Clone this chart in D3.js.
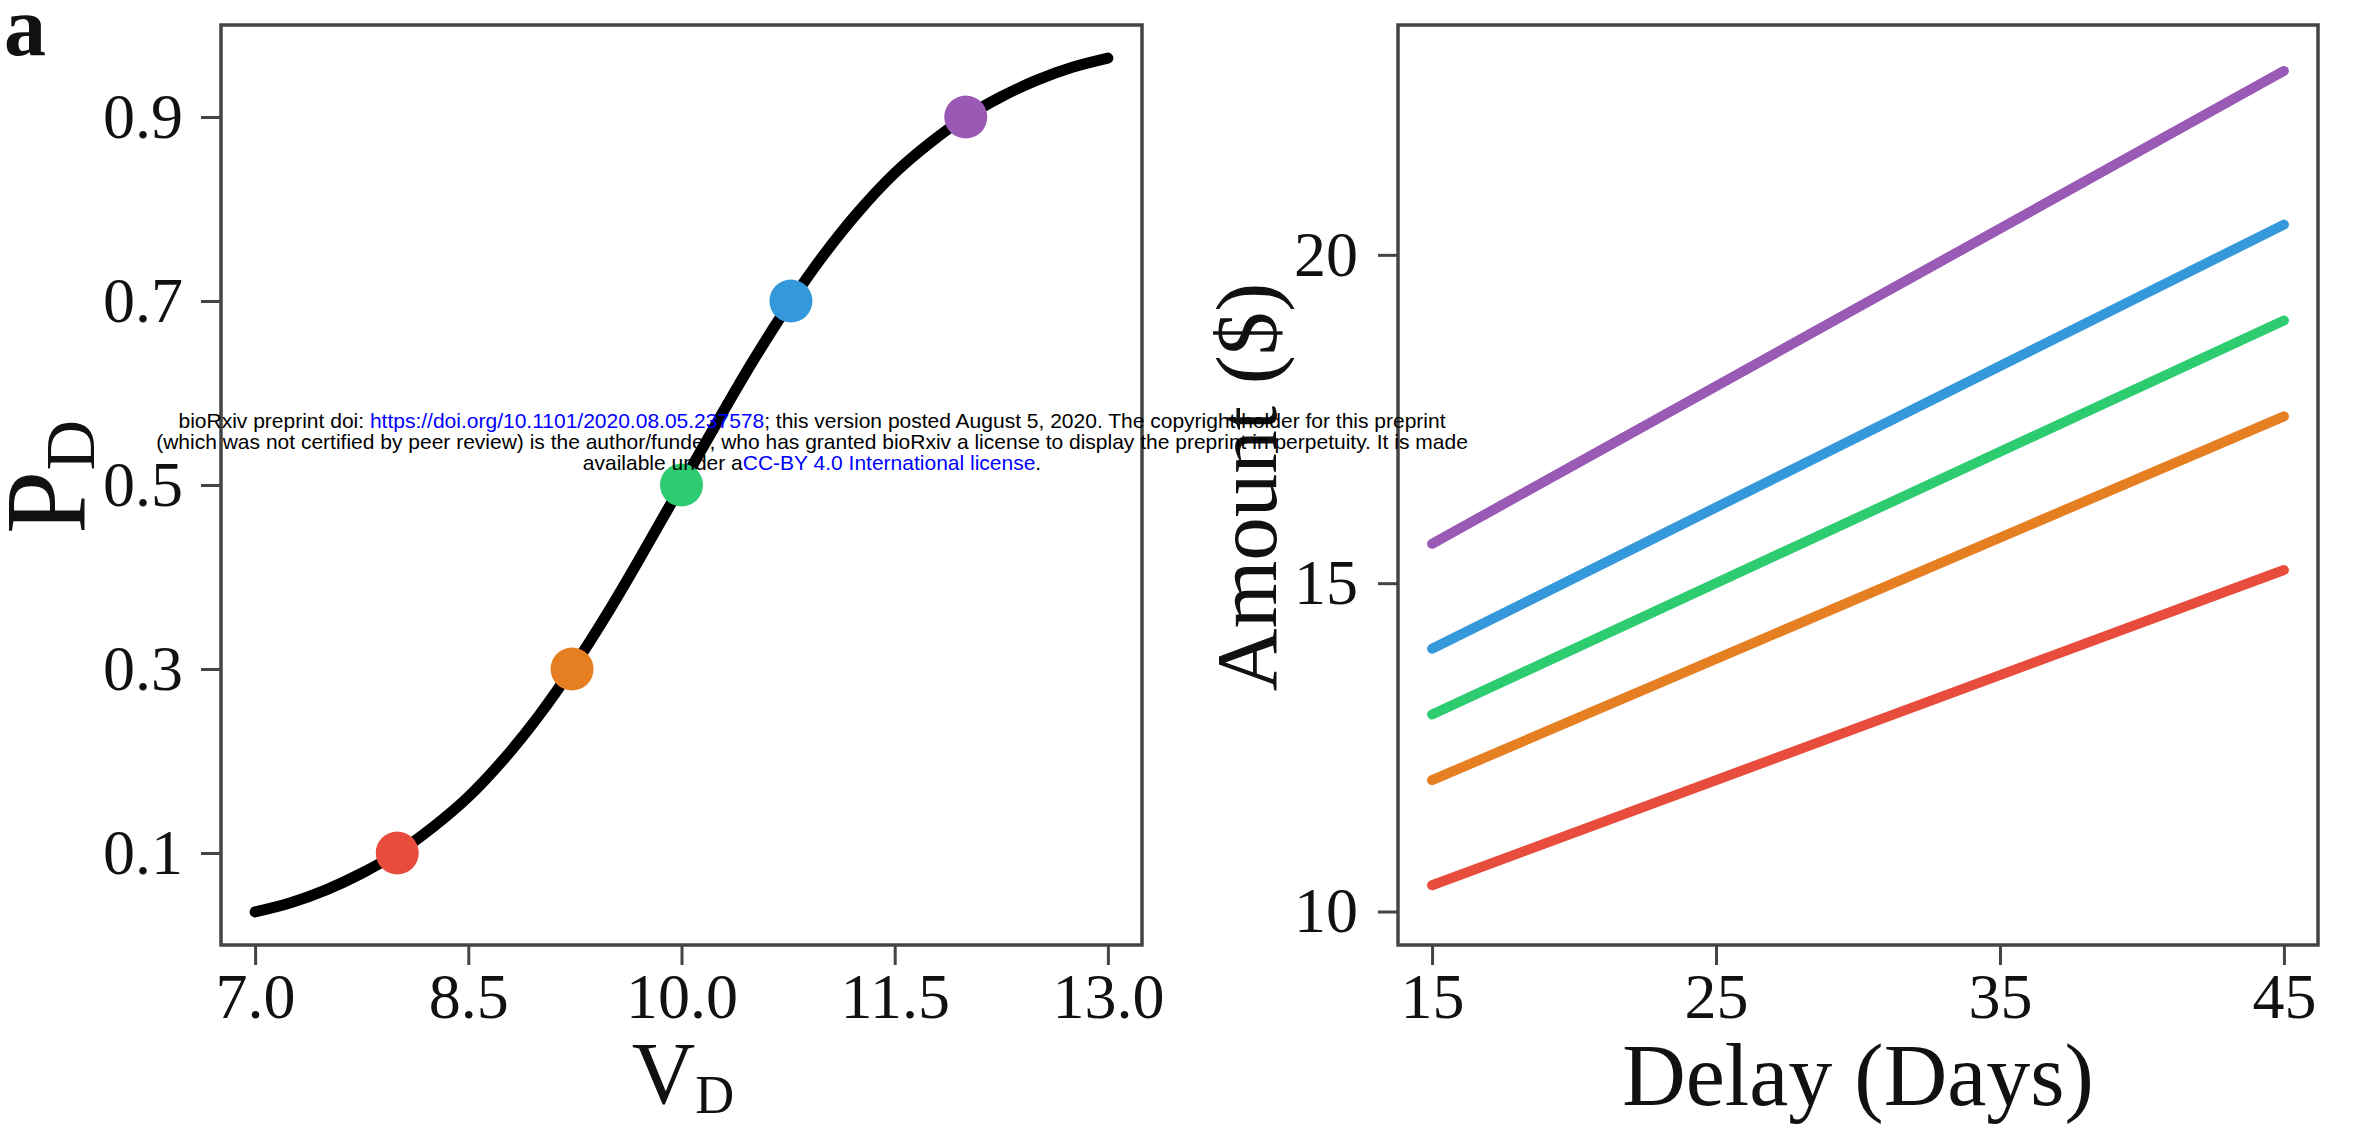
<!DOCTYPE html>
<html>
<head>
<meta charset="utf-8">
<script src="https://cdn.jsdelivr.net/npm/d3@7"></script>
<style>
  html, body { margin: 0; padding: 0; background: #fff; }
  svg { display: block; }
  .tick text { font-family: "Liberation Serif", "Times New Roman", serif; fill: #111; }
  .tick line { stroke: #444; stroke-width: 3; }
</style>
</head>
<body>
<svg id="chart" width="2360" height="1125"></svg>
<script>
// Psychometric curve: probability of choosing the delayed option vs. its value
const curveV = [7.0, 7.25, 7.5, 7.75, 8.0, 8.25, 8.5, 8.75, 9.0, 9.25, 9.5, 9.75, 10.0,
                10.25, 10.5, 10.75, 11.0, 11.25, 11.5, 11.75, 12.0, 12.25, 12.5, 12.75, 13.0];
const curveP = [0.036, 0.046, 0.060, 0.078, 0.100, 0.128, 0.161, 0.202, 0.250, 0.305, 0.366, 0.432, 0.500,
                0.568, 0.634, 0.695, 0.750, 0.798, 0.839, 0.872, 0.900, 0.922, 0.940, 0.954, 0.964];

// Highlighted indifference points on the curve
const pointV = [8.0, 9.23, 10.0, 10.77, 12.0];
const pointP = [0.1, 0.3, 0.5, 0.7, 0.9];
const pointColors = ["#e74c3c", "#e67e22", "#2ecc71", "#3498db", "#9b59b6"];

// Delayed amounts required at each delay, one line per point above
const delays = [15, 45];
const amountRed    = [10.4, 15.2];
const amountOrange = [12.0, 17.54];
const amountGreen  = [13.0, 19.0];
const amountBlue   = [14.0, 20.46];
const amountPurple = [15.6, 22.8];

// Tick values
const leftXTicks = [7.0, 8.5, 10.0, 11.5, 13.0];
const leftYTicks = [0.1, 0.3, 0.5, 0.7, 0.9];
const rightXTicks = [15, 25, 35, 45];
const rightYTicks = [10, 15, 20];

const svg = d3.select("#chart");
const serif = '"Liberation Serif", "Times New Roman", serif';
const sans = '"Liberation Sans", Arial, Helvetica, sans-serif';

// ---------- left panel ----------
const xL = d3.scaleLinear().domain([6.76, 13.24]).range([221, 1142]);
const yL = d3.scaleLinear().domain([0, 1]).range([945, 25]);

svg.append("g")
  .attr("transform", "translate(0,945)")
  .call(d3.axisBottom(xL).tickValues(leftXTicks).tickFormat(d3.format(".1f")).tickSize(20).tickPadding(8))
  .call(g => g.select(".domain").remove())
  .selectAll("text").style("font-size", "64px");

svg.append("g")
  .attr("transform", "translate(221,0)")
  .call(d3.axisLeft(yL).tickValues(leftYTicks).tickFormat(d3.format(".1f")).tickSize(20).tickPadding(18))
  .call(g => g.select(".domain").remove())
  .selectAll("text").style("font-size", "64px");

svg.append("rect")
  .attr("x", xL.range()[0]).attr("y", yL.range()[1])
  .attr("width", xL.range()[1] - xL.range()[0])
  .attr("height", yL.range()[0] - yL.range()[1])
  .attr("fill", "none").attr("stroke", "#444").attr("stroke-width", 3.5);

const curveData = curveV.map((v, i) => [v, curveP[i]]);
svg.append("path")
  .datum(curveData)
  .attr("fill", "none")
  .attr("stroke", "#000")
  .attr("stroke-width", 11)
  .attr("stroke-linecap", "round")
  .attr("d", d3.line().x(d => xL(d[0])).y(d => yL(d[1])).curve(d3.curveCatmullRom));

svg.append("g").selectAll("circle")
  .data(pointV.map((v, i) => ({ v, p: pointP[i], c: pointColors[i] })))
  .join("circle")
  .attr("cx", d => xL(d.v))
  .attr("cy", d => yL(d.p))
  .attr("r", 21.5)
  .attr("fill", d => d.c);

// axis titles, left panel
const vLabel = svg.append("text")
  .attr("x", 683).attr("y", 1103)
  .attr("text-anchor", "middle")
  .attr("font-family", serif).attr("font-size", 88).attr("fill", "#111");
vLabel.append("tspan").text("V");
vLabel.append("tspan").attr("font-size", 54).attr("dy", 10).text("D");

const pLabel = svg.append("text")
  .attr("transform", "translate(84,477) rotate(-90)")
  .attr("text-anchor", "middle")
  .attr("font-family", serif).attr("font-size", 114).attr("fill", "#111");
pLabel.append("tspan").text("P");
pLabel.append("tspan").attr("font-size", 70).attr("dy", 10).text("D");

// panel tag
svg.append("text")
  .attr("x", 4).attr("y", 55)
  .attr("font-family", serif).attr("font-weight", "bold")
  .attr("font-size", 84).attr("fill", "#111")
  .text("a");

// ---------- right panel ----------
const xR = d3.scaleLinear().domain([13.8, 46.2]).range([1398, 2318]);
const yR = d3.scaleLinear().domain([9.49, 23.5]).range([945, 25]);

svg.append("g")
  .attr("transform", "translate(0,945)")
  .call(d3.axisBottom(xR).tickValues(rightXTicks).tickFormat(d3.format("d")).tickSize(20).tickPadding(8))
  .call(g => g.select(".domain").remove())
  .selectAll("text").style("font-size", "64px");

svg.append("g")
  .attr("transform", "translate(1398,0)")
  .call(d3.axisLeft(yR).tickValues(rightYTicks).tickFormat(d3.format("d")).tickSize(20).tickPadding(20))
  .call(g => g.select(".domain").remove())
  .selectAll("text").style("font-size", "64px");

svg.append("rect")
  .attr("x", xR.range()[0]).attr("y", yR.range()[1])
  .attr("width", xR.range()[1] - xR.range()[0])
  .attr("height", yR.range()[0] - yR.range()[1])
  .attr("fill", "none").attr("stroke", "#444").attr("stroke-width", 3.5);

const amountSeries = [amountRed, amountOrange, amountGreen, amountBlue, amountPurple];
const lineR = d3.line().x(d => xR(d[0])).y(d => yR(d[1]));
svg.append("g").selectAll("path")
  .data(amountSeries.map((vals, i) => ({ pts: delays.map((d, j) => [d, vals[j]]), c: pointColors[i] })))
  .join("path")
  .attr("fill", "none")
  .attr("stroke", d => d.c)
  .attr("stroke-width", 10)
  .attr("stroke-linecap", "round")
  .attr("d", d => lineR(d.pts));

svg.append("text")
  .attr("x", 1858).attr("y", 1105)
  .attr("text-anchor", "middle")
  .attr("font-family", serif).attr("font-size", 88).attr("fill", "#111")
  .text("Delay (Days)");

svg.append("text")
  .attr("transform", "translate(1276,487) rotate(-90)")
  .attr("text-anchor", "middle")
  .attr("font-family", serif).attr("font-size", 87).attr("fill", "#111")
  .text("Amount ($)");

// ---------- preprint notice ----------
const notice = svg.append("g")
  .attr("font-family", sans).attr("font-size", 21)
  .attr("text-anchor", "middle");

const n1 = notice.append("text").attr("x", 812).attr("y", 428).attr("fill", "#000");
n1.append("tspan").text("bioRxiv preprint doi: ");
n1.append("tspan").attr("fill", "#0000ff").text("https://doi.org/10.1101/2020.08.05.237578");
n1.append("tspan").text("; this version posted August 5, 2020. The copyright holder for this preprint");

notice.append("text").attr("x", 812).attr("y", 449).attr("fill", "#000")
  .text("(which was not certified by peer review) is the author/funder, who has granted bioRxiv a license to display the preprint in perpetuity. It is made");

const n3 = notice.append("text").attr("x", 812).attr("y", 470).attr("fill", "#000");
n3.append("tspan").text("available under a");
n3.append("tspan").attr("fill", "#0000ff").text("CC-BY 4.0 International license");
n3.append("tspan").text(".");
</script>
</body>
</html>
